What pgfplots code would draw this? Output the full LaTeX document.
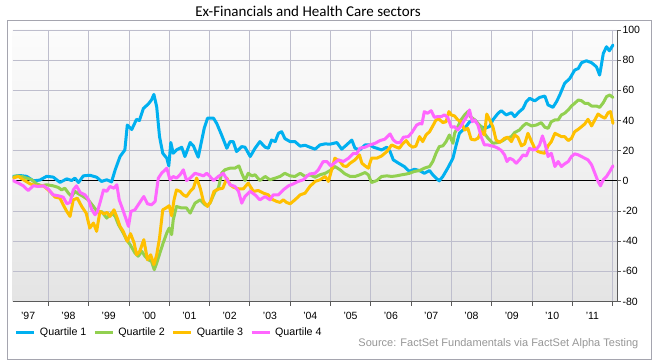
\documentclass[border=0pt]{standalone}
\usepackage{fontspec}
\setmainfont{Liberation Sans}
\newfontfamily\titlefont{Carlito}
\usepackage{pgfplots}
\pgfplotsset{compat=1.18}
\definecolor{qone}{RGB}{0,176,240}
\definecolor{qtwo}{RGB}{146,208,80}
\definecolor{qthree}{RGB}{255,192,0}
\definecolor{qfour}{RGB}{255,102,255}
\definecolor{gridc}{RGB}{190,190,205}
\definecolor{framec}{RGB}{165,165,175}
\definecolor{axisc}{RGB}{90,90,90}
\definecolor{srcc}{RGB}{150,150,150}
\begin{document}
\begin{tikzpicture}[x=1pt,y=1pt]
\path[use as bounding box] (0,0) rectangle (654,362);
\draw[framec, line width=0.9pt] (7.3,3) rectangle (651,341.3);
\node[font=\titlefont\fontsize{15}{18}\selectfont, inner sep=0pt] at (308,351) {Ex-Financials and Health Care sectors};
\node[anchor=east, inner sep=0pt, text=srcc, font=\fontsize{11}{13}\selectfont] at (638.5,18) {Source: FactSet Fundamentals via FactSet Alpha Testing};
\begin{axis}[
  at={(12.7pt,60.5pt)}, anchor=south west,
  scale only axis, width=604.3pt, height=271.5pt,
  xmin=1997.117, xmax=2012.11, ymin=-80, ymax=100,
  axis x line*=bottom, axis y line*=right,
  axis line style={axisc, line width=0.9pt, -},
  every outer x axis line/.append style={-},
  every outer y axis line/.append style={-},
  axis background/.style={top color={rgb,255:red,252;green,252;blue,252}, bottom color={rgb,255:red,228;green,228;blue,228}},
  tick align=outside,
  major tick length=4pt, minor tick length=4pt,
  tick style={axisc, line width=0.8pt},
  xtick={1997.5,1998.5,1999.5,2000.5,2001.5,2002.5,2003.5,2004.5,2005.5,2006.5,2007.5,2008.5,2009.5,2010.5,2011.5},
  xticklabels={'97,'98,'99,'00,'01,'02,'03,'04,'05,'06,'07,'08,'09,'10,'11},
  every major x tick/.append style={draw=none},
  minor xtick={1998,1999,2000,2001,2002,2003,2004,2005,2006,2007,2008,2009,2010,2011,2012},
  xmajorgrids=false, xminorgrids=true, ymajorgrids=true,
  minor grid style={gridc, line width=0.8pt},
  major grid style={gridc, line width=0.8pt},
  ytick={-80,-60,-40,-20,0,20,40,60,80,100},
  yticklabels={-80,-60,-40,-20,0,20,40,60,80,100},
  extra y ticks={0}, extra y tick labels={},
  extra y tick style={major grid style={black, line width=0.9pt}},
  xticklabel style={font=\fontsize{10.5}{12}\selectfont, anchor=base, yshift=-14pt},
  yticklabel style={font=\fontsize{10.5}{12}\selectfont, xshift=-2pt},
  legend style={at={(0,0)}, anchor=west, xshift=2.3pt, yshift=-31.2pt, draw=none, fill=none, inner sep=0pt, outer sep=0pt, font=\fontsize{10.7}{12}\selectfont, /tikz/every odd column/.append style={column sep=2pt}, /tikz/every even column/.append style={column sep=5pt}},
  legend columns=4, legend cell align=left,
  legend image code/.code={\draw[#1, line width=3pt, line cap=butt] (0pt,0pt) -- (18pt,0pt);},
  every axis plot/.append style={line width=3pt, line join=round, line cap=round, mark=none},
]
\addplot[qone] coordinates {
(1997.12,2.9) (1997.30,3.5) (1997.46,3.0) (1997.63,0.0) (1997.79,0.5) (1997.96,3.0) (1998.12,2.5) (1998.29,-1.0) (1998.46,1.3) (1998.58,0.2) (1998.66,1.8) (1998.75,-1.1) (1998.87,3.3) (1999.03,3.7) (1999.20,2.4) (1999.32,-0.4) (1999.45,0.7) (1999.57,-0.7) (1999.66,7.3) (1999.78,16.1) (1999.90,20.5) (1999.96,37) (2000.07,34) (2000.19,40.8) (2000.26,40) (2000.36,48) (2000.48,50.9) (2000.56,53.6) (2000.62,57.3) (2000.69,49) (2000.76,29.3) (2000.84,18.3) (2000.94,15) (2000.99,9.9) (2001.04,25.4) (2001.10,18.3) (2001.18,20.5) (2001.31,22.3) (2001.39,16.1) (2001.52,25.4) (2001.60,23.2) (2001.72,15.7) (2001.80,26) (2001.87,35) (2001.95,41.5) (2002.10,41.5) (2002.18,38) (2002.30,30.4) (2002.43,21.6) (2002.51,26) (2002.59,26) (2002.67,19.4) (2002.80,22.7) (2002.88,22.3) (2003.01,16.1) (2003.13,21.6) (2003.25,26) (2003.38,22.3) (2003.46,21.6) (2003.54,27) (2003.63,26) (2003.71,31.5) (2003.79,32.6) (2003.87,28) (2004.00,26) (2004.12,26) (2004.25,23) (2004.37,23.6) (2004.49,22.3) (2004.62,21) (2004.74,23.8) (2004.87,24.5) (2004.99,24.3) (2005.16,25.4) (2005.28,21) (2005.40,23.8) (2005.53,27) (2005.61,21.6) (2005.73,20.5) (2005.86,23.8) (2005.98,23.8) (2006.07,22.3) (2006.15,21.6) (2006.27,20.5) (2006.40,22.3) (2006.48,19.4) (2006.56,13.9) (2006.69,11.7) (2006.83,9.5) (2006.96,6.2) (2007.08,7.7) (2007.21,6.8) (2007.33,5.0) (2007.46,6.8) (2007.54,4.0) (2007.62,1.8) (2007.70,0) (2007.79,2.9) (2007.91,8.4) (2008.04,15) (2008.12,23.8) (2008.20,31.5) (2008.33,34.8) (2008.45,39) (2008.58,40.4) (2008.70,36.4) (2008.82,34.8) (2008.95,36) (2009.03,40.4) (2009.16,44.8) (2009.24,46.5) (2009.36,43.7) (2009.49,45.2) (2009.57,42.6) (2009.69,45.9) (2009.78,48) (2009.86,52.5) (2009.94,54.7) (2010.07,53) (2010.19,55.3) (2010.32,56.2) (2010.40,50.3) (2010.52,48.7) (2010.61,52.5) (2010.69,56.9) (2010.81,64.6) (2010.94,67.9) (2011.06,73.4) (2011.15,74.5) (2011.23,78.3) (2011.35,79.6) (2011.48,78.3) (2011.60,75.6) (2011.68,70.1) (2011.77,84.5) (2011.85,88.9) (2011.92,86.2) (2012.01,90)
};
\addlegendentry{Quartile 1}
\addplot[qtwo] coordinates {
(1997.12,2.4) (1997.22,3.3) (1997.34,2.9) (1997.46,1.8) (1997.59,0.7) (1997.71,-2) (1997.84,-3.3) (1997.96,-2.6) (1998.12,-3.3) (1998.25,-4.4) (1998.33,-6) (1998.41,-4.9) (1998.50,-8.2) (1998.58,-10.4) (1998.66,-7) (1998.75,-8.6) (1998.87,-10.4) (1998.99,-12.6) (1999.12,-17) (1999.24,-21.4) (1999.32,-20.3) (1999.45,-24.7) (1999.57,-21.4) (1999.66,-23.6) (1999.74,-29) (1999.86,-34.6) (1999.94,-39) (2000.03,-42.3) (2000.15,-47.8) (2000.23,-50) (2000.32,-46.7) (2000.40,-50) (2000.48,-52.3) (2000.56,-53.4) (2000.63,-58.9) (2000.69,-54.5) (2000.77,-47.8) (2000.85,-41.2) (2000.94,-34.6) (2001.00,-31.3) (2001.06,-35.7) (2001.10,-25.8) (2001.18,-17) (2001.31,-18) (2001.43,-18) (2001.52,-21.4) (2001.64,-14.8) (2001.77,-12.6) (2001.89,-15.9) (2001.95,-16.5) (2002.01,-14.8) (2002.14,-7) (2002.22,-4.9) (2002.30,5) (2002.38,7.3) (2002.51,8.4) (2002.63,8.4) (2002.73,9.9) (2002.80,5) (2002.88,0.2) (2002.96,5) (2003.05,3.3) (2003.13,4) (2003.25,0.2) (2003.38,2.9) (2003.50,0.7) (2003.63,1.8) (2003.75,2.9) (2003.87,5) (2004.00,3.3) (2004.12,2.9) (2004.25,5) (2004.37,2.9) (2004.49,4) (2004.62,2.4) (2004.74,4) (2004.87,5) (2004.99,6.8) (2005.11,9.5) (2005.24,7.3) (2005.36,4.6) (2005.49,2.9) (2005.61,2.9) (2005.73,4) (2005.86,5.5) (2005.94,4) (2006.02,-1.1) (2006.15,0.2) (2006.27,2.9) (2006.40,3.3) (2006.52,2.9) (2006.64,3.3) (2006.77,4) (2006.88,4.5) (2006.96,5) (2007.08,6.2) (2007.21,6.8) (2007.33,8.4) (2007.46,9.5) (2007.54,12.8) (2007.62,18.3) (2007.70,22.7) (2007.79,23.2) (2007.87,26) (2007.95,30.4) (2008.04,24.9) (2008.08,31.5) (2008.16,35.9) (2008.24,40.4) (2008.33,43.7) (2008.41,45.9) (2008.47,42.6) (2008.58,40.4) (2008.66,38.1) (2008.74,35.9) (2008.82,31.5) (2008.91,28.2) (2009.03,24.9) (2009.16,25.4) (2009.28,26.7) (2009.36,28.2) (2009.49,29.3) (2009.57,32) (2009.69,33.7) (2009.78,36.4) (2009.86,38.1) (2009.99,36.4) (2010.11,37) (2010.23,38.6) (2010.32,35.5) (2010.40,34.8) (2010.48,39.2) (2010.57,40.4) (2010.65,40.4) (2010.73,43.7) (2010.81,44.8) (2010.90,47) (2010.98,49.6) (2011.06,51.4) (2011.15,53.6) (2011.23,53.1) (2011.31,51.4) (2011.39,51.4) (2011.48,49.6) (2011.60,49.6) (2011.68,48.7) (2011.77,51.8) (2011.85,55.8) (2011.93,56.9) (2012.01,55.3)
};
\addlegendentry{Quartile 2}
\addplot[qthree] coordinates {
(1997.12,1.8) (1997.26,2.9) (1997.38,0.7) (1997.55,-2) (1997.71,-3.3) (1997.88,-3.3) (1998.04,-7) (1998.17,-10.8) (1998.29,-11.5) (1998.37,-15.9) (1998.46,-20.3) (1998.54,-23.6) (1998.62,-12.6) (1998.72,-11.5) (1998.83,-17) (1998.94,-21.4) (1999.03,-31.3) (1999.12,-28) (1999.20,-33.5) (1999.28,-20.3) (1999.38,-21.8) (1999.46,-21) (1999.53,-23.6) (1999.63,-19.2) (1999.71,-24.7) (1999.78,-30.2) (1999.86,-33.5) (1999.96,-40.1) (2000.04,-35) (2000.13,-41.2) (2000.19,-49) (2000.27,-46.7) (2000.37,-39) (2000.46,-52.3) (2000.54,-49) (2000.62,-55.6) (2000.69,-49) (2000.76,-37.9) (2000.84,-19.2) (2000.92,-18) (2001.00,-16.5) (2001.06,-23.2) (2001.12,-12.6) (2001.18,-6) (2001.27,-7) (2001.35,-9.3) (2001.43,-10.4) (2001.52,-7) (2001.60,-4.9) (2001.68,1.8) (2001.77,-4.9) (2001.85,-13.7) (2001.95,-17) (2002.03,-13.7) (2002.11,-7) (2002.22,-5.5) (2002.33,-4.9) (2002.43,1.8) (2002.51,-2.6) (2002.59,-4.2) (2002.72,-5.3) (2002.84,-5.3) (2002.96,-1.5) (2003.09,-7) (2003.21,-6.4) (2003.34,-8.2) (2003.46,-9.3) (2003.54,-12.1) (2003.67,-13.7) (2003.75,-14.3) (2003.83,-12.6) (2003.91,-14.3) (2004.00,-15.2) (2004.12,-12.6) (2004.25,-9.3) (2004.37,-8.2) (2004.49,-3.7) (2004.62,-0.4) (2004.74,0.7) (2004.87,2.9) (2004.95,-0.4) (2005.03,7.3) (2005.11,15) (2005.24,12.8) (2005.32,9.9) (2005.40,9.5) (2005.49,11.7) (2005.61,13.9) (2005.72,17.2) (2005.78,11.7) (2005.86,9.9) (2005.94,8.4) (2006.02,15) (2006.15,15) (2006.27,16.5) (2006.40,19.4) (2006.52,23.8) (2006.64,22.3) (2006.71,21.6) (2006.79,24.5) (2006.88,26.7) (2006.96,23.8) (2007.04,22.3) (2007.12,23) (2007.21,29.3) (2007.29,26) (2007.37,30.4) (2007.46,32.6) (2007.54,36.4) (2007.62,40.4) (2007.70,40.8) (2007.79,38.6) (2007.87,39.2) (2007.94,45.9) (2008.00,43.7) (2008.08,43) (2008.16,40.4) (2008.24,39.2) (2008.33,33.7) (2008.41,34.8) (2008.49,27.6) (2008.58,27.1) (2008.66,28.2) (2008.74,32.6) (2008.82,30.4) (2008.88,44.3) (2008.95,40.4) (2009.03,35.9) (2009.11,27.1) (2009.20,25.4) (2009.32,28.2) (2009.40,28.9) (2009.49,26) (2009.57,30.4) (2009.65,28.9) (2009.74,23.2) (2009.82,24.5) (2009.90,31.5) (2009.99,26) (2010.07,21.6) (2010.15,19.4) (2010.23,18.7) (2010.32,18.3) (2010.40,23.2) (2010.48,26) (2010.57,31.5) (2010.65,30.4) (2010.73,29.3) (2010.81,29.3) (2010.90,26.7) (2010.98,28.2) (2011.06,32.6) (2011.15,34.2) (2011.23,35.9) (2011.31,37.7) (2011.39,40.8) (2011.48,36.4) (2011.56,40.4) (2011.64,44.3) (2011.73,42.6) (2011.81,41.5) (2011.89,45.2) (2011.95,45.9) (2012.01,38.1)
};
\addlegendentry{Quartile 3}
\addplot[qfour] coordinates {
(1997.12,0.2) (1997.26,-1.5) (1997.38,-3.3) (1997.50,-6.4) (1997.63,-3.3) (1997.75,-3.7) (1997.88,-3.3) (1998.00,-5.5) (1998.12,-9.3) (1998.25,-9.9) (1998.37,-10.8) (1998.46,-15.2) (1998.54,-14.3) (1998.62,-6) (1998.70,-3.3) (1998.79,-7.7) (1998.91,-9.3) (1998.99,-12.1) (1999.08,-19.2) (1999.16,-22.5) (1999.22,-20.3) (1999.28,-14.8) (1999.37,-6) (1999.45,-7) (1999.53,-3.7) (1999.63,-4.9) (1999.70,-2.6) (1999.76,-12.6) (1999.85,-19.2) (1999.93,-25.4) (1999.99,-30.2) (2000.05,-20.3) (2000.15,-19.2) (2000.27,-14.3) (2000.37,-10.4) (2000.46,-15.2) (2000.56,-15.9) (2000.65,-13.7) (2000.73,1.8) (2000.81,5) (2000.94,8.4) (2001.02,0.7) (2001.10,2.9) (2001.18,1.8) (2001.27,4) (2001.35,7.3) (2001.43,0.2) (2001.52,1.8) (2001.64,5) (2001.77,4) (2001.85,3.3) (2001.93,5) (2002.01,2.9) (2002.10,0.2) (2002.22,2.9) (2002.34,5) (2002.43,1.1) (2002.51,-2.6) (2002.63,-3.7) (2002.72,-7) (2002.80,-14.8) (2002.88,-10.4) (2003.01,-7) (2003.13,-9.3) (2003.25,-12.6) (2003.38,-10.4) (2003.50,-12.6) (2003.58,-9.3) (2003.71,-9.3) (2003.83,-6) (2003.96,-3.3) (2004.08,-2) (2004.20,-0.4) (2004.33,0.7) (2004.41,2.9) (2004.49,4.6) (2004.62,5) (2004.70,7.3) (2004.82,12.8) (2004.91,12.8) (2005.01,9.9) (2005.07,11.2) (2005.20,13.9) (2005.32,12.8) (2005.45,15) (2005.57,18.3) (2005.65,17.9) (2005.73,21.6) (2005.86,22.3) (2005.98,23.8) (2006.11,24.9) (2006.23,26.7) (2006.35,27.6) (2006.48,31.1) (2006.56,27.1) (2006.64,25.4) (2006.73,25.4) (2006.81,28.9) (2006.93,29.3) (2007.02,32) (2007.14,37) (2007.22,38.1) (2007.27,37.7) (2007.33,45.9) (2007.41,44.8) (2007.50,46.5) (2007.58,42.1) (2007.66,42.6) (2007.75,42.6) (2007.83,43.7) (2007.91,42.1) (2008.00,35.5) (2008.08,35.9) (2008.16,33.7) (2008.24,36.4) (2008.33,40.4) (2008.41,43.7) (2008.45,47) (2008.52,39.2) (2008.58,40.4) (2008.66,37) (2008.74,29.3) (2008.82,23.8) (2008.91,23.8) (2008.99,23.2) (2009.07,22.7) (2009.16,21.6) (2009.24,20.1) (2009.32,17.2) (2009.38,12.8) (2009.45,15) (2009.53,13.9) (2009.61,11.7) (2009.69,13.9) (2009.78,17.2) (2009.86,16.5) (2009.94,21.6) (2010.03,20.5) (2010.11,20.9) (2010.19,23.8) (2010.26,29.8) (2010.32,24.9) (2010.40,16.1) (2010.48,18.3) (2010.57,9.5) (2010.65,12.8) (2010.73,9.5) (2010.81,11.2) (2010.90,12.8) (2010.98,16.1) (2011.06,17.9) (2011.15,17.2) (2011.23,16.1) (2011.31,15) (2011.39,13.9) (2011.48,10.6) (2011.56,5.1) (2011.64,-0.4) (2011.70,-3.3) (2011.77,0.7) (2011.85,2.9) (2011.93,6.2) (2012.01,9.9)
};
\addlegendentry{Quartile 4}
\end{axis}
\end{tikzpicture}
\end{document}
